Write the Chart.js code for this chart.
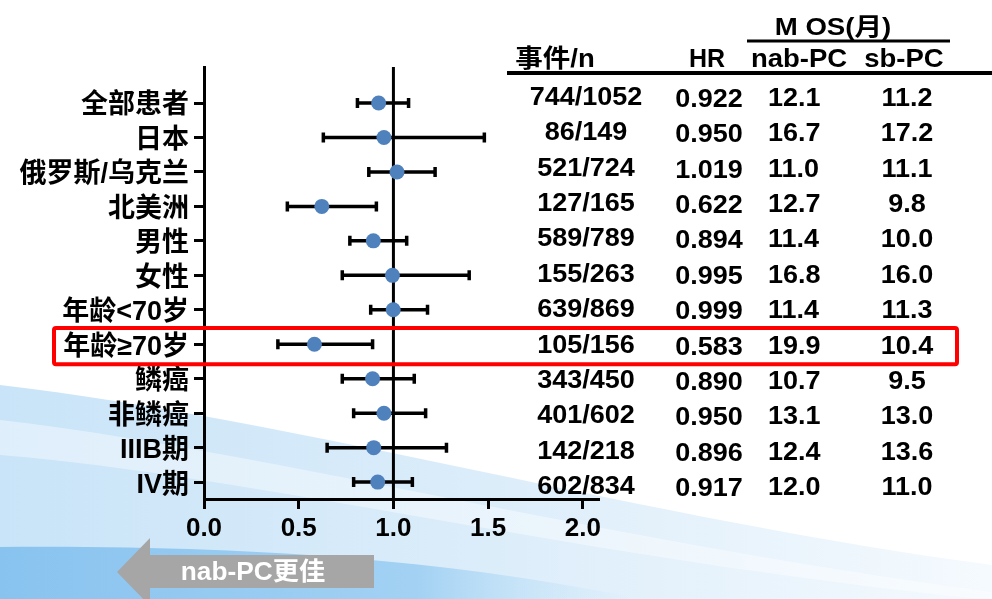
<!DOCTYPE html>
<html>
<head>
<meta charset="utf-8">
<script src="https://cdn.jsdelivr.net/npm/chart.js@4/dist/chart.umd.min.js"></script>
<style>
  html, body { margin: 0; padding: 0; background: #fff; }
  canvas { display: block; }
</style>
</head>
<body>
<canvas id="forest" width="992" height="599"></canvas>
<script>
// subgroups, top to bottom
const subgroups = ['全部患者', '日本', '俄罗斯/乌克兰', '北美洲', '男性', '女性', '年龄<70岁', '年龄≥70岁', '鳞癌', '非鳞癌', 'IIIB期', 'IV期'];
const hr = [0.922, 0.950, 1.019, 0.622, 0.894, 0.995, 0.999, 0.583, 0.890, 0.950, 0.896, 0.917];
const ciLow = [0.81, 0.63, 0.87, 0.44, 0.77, 0.73, 0.88, 0.39, 0.73, 0.79, 0.65, 0.79];
const ciHigh = [1.08, 1.48, 1.22, 0.91, 1.07, 1.40, 1.18, 0.89, 1.11, 1.17, 1.28, 1.10];
const events = ['744/1052', '86/149', '521/724', '127/165', '589/789', '155/263', '639/869', '105/156', '343/450', '401/602', '142/218', '602/834'];
const hrText = ['0.922', '0.950', '1.019', '0.622', '0.894', '0.995', '0.999', '0.583', '0.890', '0.950', '0.896', '0.917'];
const osNab = ['12.1', '16.7', '11.0', '12.7', '11.4', '16.8', '11.4', '19.9', '10.7', '13.1', '12.4', '12.0'];
const osSb = ['11.2', '17.2', '11.1', '9.8', '10.0', '16.0', '11.3', '10.4', '9.5', '13.0', '13.6', '11.0'];
const xTicks = [0, 0.5, 1.0, 1.5, 2.0];
const highlightRow = 7;

const FONT = '"Liberation Sans", Arial, "Noto Sans CJK SC", sans-serif';

function stretchText(ctx, txt, x, y, align, font, sx) {
    ctx.save();
    ctx.font = font;
    ctx.textAlign = align;
    ctx.textBaseline = 'middle';
    ctx.translate(x, y);
    ctx.scale(sx, 1);
    ctx.fillText(txt, 0, 0);
    ctx.restore();
}

// light blue slide background
const backdrop = {
    id: 'backdrop',
    beforeDraw(chart) {
        const ctx = chart.ctx;
        const W = chart.width, H = chart.height;
        ctx.save();
        ctx.fillStyle = '#ffffff';
        ctx.fillRect(0, 0, W, H);

        let g = ctx.createLinearGradient(0, 0, W, 0);
        g.addColorStop(0, '#c9e4f8');
        g.addColorStop(0.5, '#dcedfa');
        g.addColorStop(1, '#f5fafe');
        ctx.fillStyle = g;
        ctx.beginPath();
        ctx.moveTo(0, 385);
        ctx.bezierCurveTo(300, 420, 650, 520, W, 565);
        ctx.lineTo(W, H);
        ctx.lineTo(0, H);
        ctx.closePath();
        ctx.fill();

        // pale streak
        ctx.fillStyle = 'rgba(255,255,255,0.4)';
        ctx.beginPath();
        ctx.moveTo(0, 420);
        ctx.bezierCurveTo(250, 448, 600, 540, W, 592);
        ctx.lineTo(W, 600);
        ctx.bezierCurveTo(600, 562, 250, 475, 0, 455);
        ctx.closePath();
        ctx.fill();

        g = ctx.createLinearGradient(0, 0, 640, 0);
        g.addColorStop(0, '#88c3ef');
        g.addColorStop(0.65, '#a2d1f3');
        g.addColorStop(1, 'rgba(200,230,249,0)');
        ctx.fillStyle = g;
        ctx.beginPath();
        ctx.moveTo(0, 547);
        ctx.bezierCurveTo(250, 545, 450, 560, 640, H);
        ctx.lineTo(0, H);
        ctx.closePath();
        ctx.fill();
        ctx.restore();
    }
};

// error bars and the HR = 1 line
const whiskers = {
    id: 'whiskers',
    beforeDatasetsDraw(chart) {
        const ctx = chart.ctx;
        const x = chart.scales.x, y = chart.scales.y;
        const area = chart.chartArea;
        ctx.save();
        ctx.strokeStyle = '#000';
        ctx.lineWidth = 3;
        const x1 = x.getPixelForValue(1);
        ctx.beginPath();
        ctx.moveTo(x1, area.top);
        ctx.lineTo(x1, area.bottom);
        ctx.stroke();

        ctx.lineWidth = 3.5;
        ctx.lineCap = 'butt';
        subgroups.forEach((s, i) => {
            const py = y.getPixelForValue(i);
            const a = x.getPixelForValue(ciLow[i]);
            const b = x.getPixelForValue(ciHigh[i]);
            ctx.beginPath();
            ctx.moveTo(a, py);
            ctx.lineTo(b, py);
            ctx.moveTo(a, py - 5);
            ctx.lineTo(a, py + 5);
            ctx.moveTo(b, py - 5);
            ctx.lineTo(b, py + 5);
            ctx.stroke();
        });
        ctx.restore();
    }
};

// table, highlight box and arrow
const extras = {
    id: 'extras',
    afterDraw(chart) {
        const ctx = chart.ctx;
        const y = chart.scales.y;
        ctx.save();
        ctx.fillStyle = '#000';

        // headers
        stretchText(ctx, 'M OS(月)', 833, 28, 'center', 'bold 24px ' + FONT, 1.15);
        stretchText(ctx, '事件/n', 555, 60, 'center', 'bold 25px ' + FONT, 1.1);
        stretchText(ctx, 'HR', 707, 60, 'center', 'bold 25px ' + FONT, 1.0);
        stretchText(ctx, 'nab-PC', 799, 60, 'center', 'bold 25px ' + FONT, 1.1);
        stretchText(ctx, 'sb-PC', 904, 60, 'center', 'bold 25px ' + FONT, 1.1);

        ctx.strokeStyle = '#000';
        ctx.lineWidth = 3;
        ctx.beginPath();
        ctx.moveTo(747, 41);
        ctx.lineTo(950, 41);
        ctx.stroke();
        ctx.lineWidth = 4;
        ctx.beginPath();
        ctx.moveTo(507, 73);
        ctx.lineTo(992, 73);
        ctx.stroke();

        // table rows
        const t0 = y.getPixelForValue(0) - 5;
        const t1 = y.getPixelForValue(subgroups.length - 1) + 5;
        const gap = (t1 - t0) / (subgroups.length - 1);
        const f = 'bold 25px ' + FONT;
        subgroups.forEach((s, i) => {
            const ty = t0 + i * gap;
            stretchText(ctx, events[i], 586, ty, 'center', f, 1.08);
            stretchText(ctx, hrText[i], 709, ty + 2, 'center', f, 1.08);
            stretchText(ctx, osNab[i], 768, ty + 1, 'left', f, 1.08);
            stretchText(ctx, osSb[i], 907, ty + 1, 'center', f, 1.08);
        });

        // red highlight box
        const top = y.getPixelForValue(highlightRow - 0.47);
        const bot = y.getPixelForValue(highlightRow + 0.58);
        ctx.strokeStyle = '#ff0000';
        ctx.lineWidth = 4;
        ctx.beginPath();
        ctx.roundRect(54, top, 903, bot - top, 2);
        ctx.stroke();

        // arrow
        ctx.fillStyle = '#a6a6a6';
        ctx.beginPath();
        ctx.moveTo(117, 572);
        ctx.lineTo(150, 538);
        ctx.lineTo(150, 555);
        ctx.lineTo(374, 555);
        ctx.lineTo(374, 588);
        ctx.lineTo(150, 588);
        ctx.lineTo(150, 606);
        ctx.closePath();
        ctx.fill();
        ctx.fillStyle = '#ffffff';
        stretchText(ctx, 'nab-PC更佳', 253, 573, 'center', 'bold 25px ' + FONT, 1.05);
        ctx.restore();
    }
};

const ctx = document.getElementById('forest').getContext('2d');
const forestChart = new Chart(ctx, {
    type: 'scatter',
    data: {
        datasets: [{
            label: 'HR',
            data: hr.map((v, i) => ({ x: v, y: i })),
            backgroundColor: '#4f81bd',
            borderColor: '#4f81bd',
            borderWidth: 0,
            pointRadius: 7.5,
            pointHoverRadius: 7.5
        }]
    },
    options: {
        responsive: false,
        animation: false,
        layout: { padding: { left: 0, top: 67, right: 394, bottom: 0 } },
        plugins: {
            legend: { display: false },
            tooltip: { enabled: false }
        },
        scales: {
            x: {
                type: 'linear',
                min: 0,
                max: 2.08,
                afterBuildTicks: s => { s.ticks = xTicks.map(v => ({ value: v })); },
                afterFit: s => { s.height = 100; },
                border: { display: true, color: '#000', width: 3 },
                grid: { display: true, drawOnChartArea: false, drawTicks: true, tickLength: 10, lineWidth: 3, color: '#000' },
                ticks: {
                    color: '#000',
                    padding: 4,
                    font: { family: FONT, size: 26, weight: 'bold' },
                    callback: v => v.toFixed(1)
                }
            },
            y: {
                type: 'linear',
                reverse: true,
                min: -1.045,
                max: 11.49,
                afterBuildTicks: s => { s.ticks = subgroups.map((c, i) => ({ value: i })); },
                afterFit: s => { s.width = 204; },
                border: { display: true, color: '#000', width: 3 },
                grid: { display: true, drawOnChartArea: false, drawTicks: true, tickLength: 10, lineWidth: 3, color: '#000' },
                ticks: {
                    color: '#000',
                    padding: 5,
                    labelOffset: 3,
                    autoSkip: false,
                    font: { family: FONT, size: 27, weight: 'bold' },
                    callback: v => subgroups[v]
                }
            }
        }
    },
    plugins: [backdrop, whiskers, extras]
});
</script>
</body>
</html>
